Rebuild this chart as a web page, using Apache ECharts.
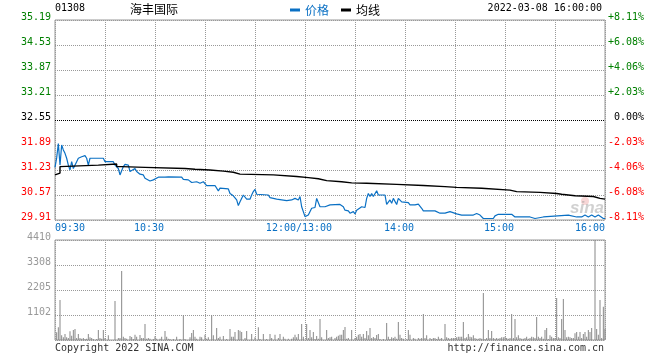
<!DOCTYPE html>
<html>
<head>
<meta charset="utf-8">
<title>海丰国际 分时</title>
<script src="https://cdn.jsdelivr.net/npm/echarts@6/dist/echarts.min.js"></script>
<style>
html, body { margin: 0; padding: 0; background: #fff; }
#chart { width: 660px; height: 360px; }
</style>
</head>
<body>
<div id="chart"></div>
<script>
// 海丰国际 01308 分时图
const stockCode = '01308';
const stockName = '海丰国际';
const tradeTime = '2022-03-08 16:00:00';
const prevClose = 32.55;

// 价格轴
const priceMin = 29.91;
const priceMax = 35.19;
const priceStep = 0.66;
const pctLabels = ['-8.11%', '-6.08%', '-4.06%', '-2.03%', '0.00%', '+2.03%', '+4.06%', '+6.08%', '+8.11%'];

// 成交量轴
const volMax = 4410;
const volLabels = ['', '1102', '2205', '3308', '4410'];

// 时间轴 (分钟序号, 午休已去掉)
const timeTicks = [0, 60, 150, 210, 270, 330];
const timeLabels = ['09:30', '10:30', '12:00/13:00', '14:00', '15:00', '16:00'];

// 价格
const priceMins = [0, 1, 2, 3, 4, 5, 6, 7, 8, 9, 10, 11, 12, 13, 14, 16, 17, 18, 19, 20,
  21, 29, 30, 35, 36, 38, 39, 40, 41, 42, 44, 45, 46, 48, 49, 51, 53, 54, 57, 59,
  60, 62, 66, 67, 68, 76, 77, 80, 82, 83, 85, 87, 89, 91, 96, 98, 99, 104, 105, 107,
  109, 110, 111, 112, 113, 114, 115, 117, 118, 119, 120, 121, 128, 129, 133, 136, 137, 139, 142, 143,
  144, 146, 147, 148, 149, 150, 152, 154, 156, 157, 158, 159, 162, 163, 165, 171, 173, 174, 176, 177,
  179, 180, 181, 184, 186, 187, 188, 189, 190, 191, 193, 194, 198, 199, 200, 201, 202, 203, 204, 205,
  206, 208, 212, 213, 216, 218, 220, 221, 228, 231, 234, 237, 238, 241, 244, 251, 253, 255, 257, 263,
  264, 266, 274, 275, 276, 285, 286, 288, 289, 293, 294, 308, 309, 313, 314, 316, 318, 320, 322, 324,
  326, 327, 329, 330];
const prices = [31.30, 31.55, 31.93, 31.36, 31.89, 31.76, 31.67, 31.54, 31.36, 31.23, 31.45, 31.27, 31.32, 31.45, 31.54, 31.58, 31.54, 31.61, 31.54, 31.36,
  31.54, 31.54, 31.45, 31.45, 31.36, 31.27, 31.10, 31.05, 31.32, 31.38, 31.36, 31.19, 31.23, 31.27, 31.19, 31.12, 31.10, 31.01, 30.94, 30.97,
  30.99, 31.04, 31.04, 31.08, 31.05, 31.04, 30.98, 30.97, 30.90, 30.88, 30.92, 30.88, 30.92, 30.82, 30.82, 30.68, 30.75, 30.73, 30.61, 30.55,
  30.44, 30.29, 30.39, 30.39, 30.57, 30.53, 30.46, 30.46, 30.57, 30.66, 30.72, 30.59, 30.57, 30.50, 30.46, 30.44, 30.39, 30.42, 30.44, 30.39,
  30.48, 30.44, 30.53, 30.26, 30.31, 30.00, 30.04, 30.22, 30.24, 30.48, 30.53, 30.26, 30.26, 30.29, 30.31, 30.32, 30.26, 30.17, 30.15, 30.09,
  30.13, 30.07, 30.17, 30.26, 30.24, 30.48, 30.61, 30.53, 30.61, 30.53, 30.68, 30.57, 30.57, 30.32, 30.32, 30.44, 30.35, 30.48, 30.44, 30.32,
  30.48, 30.39, 30.37, 30.31, 30.31, 30.33, 30.22, 30.15, 30.15, 30.09, 30.09, 30.13, 30.09, 30.07, 30.04, 30.04, 30.08, 30.04, 29.95, 29.95,
  30.02, 30.06, 30.06, 30.11, 29.99, 29.99, 29.95, 29.95, 29.99, 29.99, 30.04, 30.04, 29.99, 29.99, 30.04, 29.99, 30.04, 29.99, 30.04, 29.99,
  30.04, 29.99, 29.95, 29.95];

// 均线 (每段起点)
const avgMins = [0, 1, 3, 4, 26, 37, 40, 54, 78, 84, 93, 101, 107, 111, 131, 145, 152, 158, 163, 172,
  178, 187, 205, 221, 234, 241, 256, 273, 277, 291, 301, 304, 312, 323, 327, 330];
const avgPrices = [31.10, 31.15, 31.32, 31.36, 31.39, 31.32, 31.30, 31.27, 31.25, 31.23, 31.20, 31.17, 31.12, 31.10, 31.06, 31.03, 31.00, 30.95, 30.92, 30.89,
  30.88, 30.85, 30.82, 30.79, 30.77, 30.75, 30.70, 30.66, 30.64, 30.61, 30.59, 30.55, 30.53, 30.48, 30.46, 30.46];

// 成交量, 每分钟一个
const volumes = [
  0, 338, 559, 1764, 206, 118, 265, 118, 88, 382,
  191, 441, 485, 88, 265, 88, 59, 88, 44, 59,
  265, 118, 88, 44, 0, 44, 441, 88, 59, 441,
  88, 0, 206, 0, 0, 0, 1720, 0, 88, 88,
  3043, 147, 88, 59, 0, 176, 132, 44, 235, 147,
  0, 221, 88, 88, 706, 59, 88, 59, 0, 44,
  162, 59, 0, 59, 147, 0, 397, 147, 59, 44,
  0, 44, 0, 147, 0, 44, 0, 1088, 44, 0,
  0, 118, 309, 441, 147, 59, 0, 147, 118, 0,
  235, 59, 118, 0, 1088, 206, 0, 529, 88, 147,
  0, 176, 0, 44, 0, 485, 147, 147, 353, 0,
  441, 412, 353, 0, 88, 397, 0, 0, 265, 0,
  118, 0, 559, 44, 0, 265, 0, 44, 0, 265,
  88, 0, 235, 0, 88, 265, 0, 147, 59, 0,
  59, 0, 59, 118, 235, 118, 265, 0, 706, 147,
  0, 706, 88, 441, 118, 353, 44, 176, 59, 926,
  118, 0, 0, 441, 88, 118, 147, 0, 88, 147,
  191, 235, 235, 441, 573, 59, 88, 0, 441, 0,
  88, 147, 235, 265, 147, 265, 88, 397, 206, 529,
  88, 132, 88, 221, 265, 44, 0, 44, 0, 750,
  147, 44, 118, 88, 147, 59, 794, 235, 88, 59,
  0, 30, 441, 235, 0, 88, 59, 0, 88, 59,
  88, 1147, 88, 206, 0, 88, 44, 88, 88, 44,
  147, 59, 88, 0, 706, 118, 88, 59, 88, 88,
  88, 118, 147, 147, 147, 794, 88, 118, 265, 147,
  118, 206, 88, 59, 59, 88, 59, 2073, 44, 88,
  441, 88, 397, 88, 59, 88, 59, 88, 118, 118,
  147, 88, 59, 88, 1147, 88, 926, 118, 206, 88,
  59, 59, 88, 147, 59, 88, 147, 118, 88, 1014,
  147, 88, 147, 59, 441, 529, 44, 206, 147, 88,
  88, 1852, 118, 88, 926, 1808, 441, 118, 147, 118,
  88, 88, 294, 353, 147, 353, 88, 265, 353, 147,
  441, 353, 529, 0, 4410, 485, 235, 1764, 88, 1470,
  485
];

const MONO = '"DejaVu Sans Mono", "Liberation Mono", monospace';
const CJK = '"Noto Sans CJK SC", sans-serif';
const blue = '#0a70c4';
const gridLine = { show: true, lineStyle: { color: '#999', type: [1, 1], width: 1 } };

function stepIndex(v) {
  return Math.round((v - priceMin) / priceStep);
}
function upDownColor(v) {
  let i = stepIndex(v);
  if (i > 4) return '#008000';
  if (i < 4) return '#ff0000';
  return '#000';
}

let chart = echarts.init(document.getElementById('chart'));

let option = {
  animation: false,
  backgroundColor: '#fff',
  grid: [
    { left: 55, top: 20, width: 550, height: 200, show: true, borderColor: '#999', borderWidth: 1, outerBoundsMode: 'none' },
    { left: 55, top: 240, width: 550, height: 100, show: true, borderColor: '#999', borderWidth: 1, outerBoundsMode: 'none' }
  ],
  legend: {
    left: 285, top: -1,
    itemWidth: 10, itemHeight: 3, itemGap: 12,
    icon: 'rect',
    data: [
      { name: '价格', textStyle: { color: blue } },
      { name: '均线', textStyle: { color: '#000' } }
    ],
    textStyle: { fontFamily: CJK, fontSize: 12 }
  },
  xAxis: [
    {
      type: 'value', gridIndex: 0, min: 0, max: 330, interval: 30,
      axisLine: { show: false }, axisTick: { show: false },
      splitLine: gridLine,
      axisLabel: {
        margin: 3, color: blue, fontFamily: MONO, fontSize: 10,
        alignMinLabel: 'left', alignMaxLabel: 'right',
        formatter: function (v) {
          let i = timeTicks.indexOf(v);
          if (i < 0) return '';
          if (i === 0 || i === timeTicks.length - 1) return timeLabels[i];
          return timeLabels[i] + '  ';
        }
      }
    },
    {
      type: 'value', gridIndex: 1, min: 0, max: 330, interval: 30,
      axisLine: { show: false }, axisTick: { show: false },
      splitLine: gridLine,
      axisLabel: { show: false }
    }
  ],
  yAxis: [
    {
      type: 'value', gridIndex: 0, position: 'left',
      min: priceMin, max: priceMax, interval: priceStep,
      axisLine: { show: false }, axisTick: { show: false },
      splitLine: gridLine,
      axisLabel: {
        margin: 4, fontFamily: MONO, fontSize: 10, verticalAlign: 'bottom', lineHeight: 6,
        color: upDownColor,
        formatter: function (v) { return v.toFixed(2); }
      }
    },
    {
      type: 'value', gridIndex: 0, position: 'right',
      min: priceMin, max: priceMax, interval: priceStep,
      axisLine: { show: false }, axisTick: { show: false },
      splitLine: { show: false },
      axisLabel: {
        margin: 39, align: 'right', fontFamily: MONO, fontSize: 10, verticalAlign: 'bottom', lineHeight: 6,
        color: upDownColor,
        formatter: function (v) { return pctLabels[stepIndex(v)]; }
      }
    },
    {
      type: 'value', gridIndex: 1, min: 0, max: volMax, interval: volMax / 4,
      axisLine: { show: false }, axisTick: { show: false },
      splitLine: gridLine,
      axisLabel: {
        margin: 4, color: '#999', fontFamily: MONO, fontSize: 10, verticalAlign: 'bottom', lineHeight: 6,
        formatter: function (v) { return volLabels[Math.round(v / (volMax / 4))]; }
      }
    }
  ],
  graphic: [
    { type: 'text', left: 55, top: 3, style: { text: stockCode, font: '10px ' + MONO, fill: '#000' } },
    { type: 'text', left: 130, top: 3, style: { text: stockName, font: '12px ' + CJK, fill: '#000' } },
    { type: 'text', right: 58, top: 3, style: { text: tradeTime, font: '10px ' + MONO, fill: '#000' } },
    { type: 'text', left: 55, top: 343, style: { text: 'Copyright 2022 SINA.COM', font: '10px ' + MONO, fill: '#333' } },
    { type: 'text', right: 56, top: 343, style: { text: 'http://finance.sina.com.cn', font: '10px ' + MONO, fill: '#333' } },
    { type: 'circle', shape: { cx: 585, cy: 201, r: 4 }, style: { fill: 'rgba(230,120,120,0.3)' }, z: 1 },
    { type: 'text', left: 570, top: 200, style: { text: 'sina', font: 'italic bold 17px "Liberation Sans", Arial', fill: 'rgba(150,150,150,0.45)' }, z: 1 }
  ],
  series: [
    {
      name: '价格', type: 'line', xAxisIndex: 0, yAxisIndex: 0,
      data: priceMins.map((m, i) => [m, prices[i]]),
      symbol: 'none', showSymbol: false,
      lineStyle: { color: blue, width: 1.2 }, itemStyle: { color: blue },
      z: 3,
      markLine: {
        silent: true, symbol: 'none', label: { show: false },
        lineStyle: { color: '#000', type: [1, 1], width: 1 },
        data: [{ yAxis: prevClose }]
      }
    },
    {
      name: '均线', type: 'line', xAxisIndex: 0, yAxisIndex: 0, step: 'end',
      data: avgMins.map((m, i) => [m, avgPrices[i]]),
      symbol: 'none', showSymbol: false,
      lineStyle: { color: '#000', width: 1.4 }, itemStyle: { color: '#000' },
      z: 4
    },
    {
      name: '成交量', type: 'bar', xAxisIndex: 1, yAxisIndex: 2,
      data: volumes.map((v, i) => [i, v]),
      barWidth: 1,
      itemStyle: { color: '#888' }
    }
  ]
};

chart.setOption(option);
</script>
</body>
</html>
